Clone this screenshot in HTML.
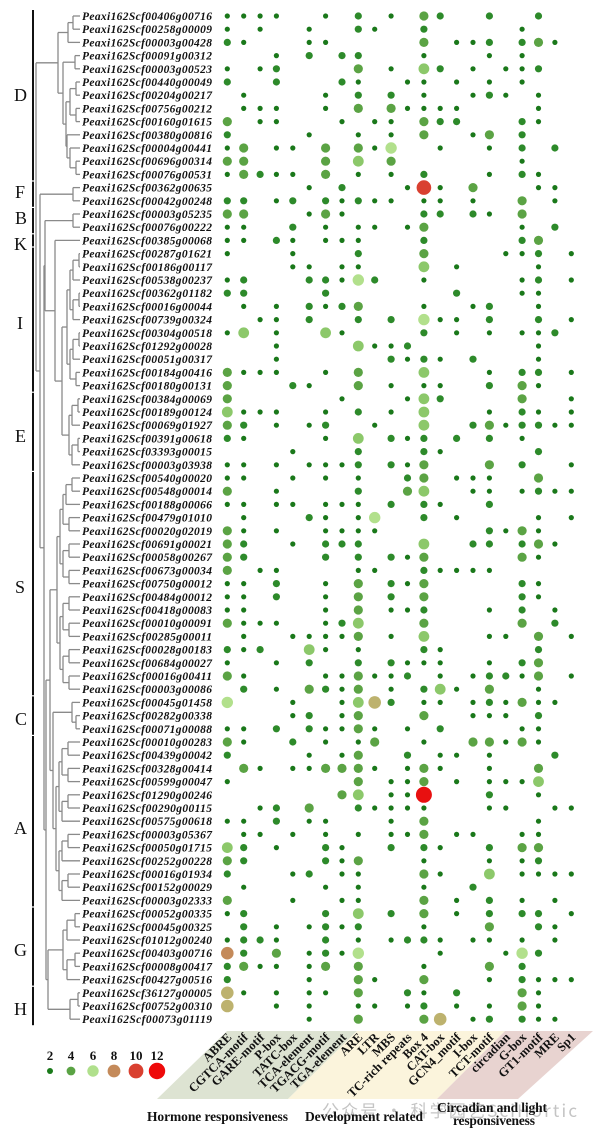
<!DOCTYPE html>
<html><head><meta charset="utf-8"><style>
html,body{margin:0;padding:0;background:#fff;}
svg{display:block;}
.g{font-family:"Liberation Serif",serif;font-weight:bold;font-style:italic;font-size:11.5px;fill:#111;}
.grp{font-family:"Liberation Serif",serif;font-size:18px;fill:#111;}
.col{font-family:"Liberation Serif",serif;font-weight:bold;font-size:12.5px;fill:#111;}
.leg{font-family:"Liberation Serif",serif;font-weight:bold;font-size:13px;fill:#111;}
.tt{font-family:"Liberation Serif",serif;font-weight:bold;font-size:13.5px;fill:#111;}
</style></head><body>
<svg id="s" width="602" height="1142" viewBox="0 0 602 1142" xmlns="http://www.w3.org/2000/svg">
<polygon points="227,1031 357,1031 288,1099 157,1099" fill="#dde3d2"/>
<polygon points="357,1031 505,1031 437,1099 288,1099" fill="#fbf4dc"/>
<polygon points="505,1031 593,1031 518,1099 437,1099" fill="#e8d3d0"/>
<g id="tree" stroke="#8a8a8a" stroke-width="1.3" fill="none"></g>
<g id="bars" stroke="#111" stroke-width="2"></g>
<g id="dots"></g>
<g id="labels">
<text class="g" x="82" y="20" textLength="130">Peaxi162Scf00406g00716</text>
<text class="g" x="82" y="33.2" textLength="130">Peaxi162Scf00258g00009</text>
<text class="g" x="82" y="46.4" textLength="130">Peaxi162Scf00003g00428</text>
<text class="g" x="82" y="59.6" textLength="130">Peaxi162Scf00091g00312</text>
<text class="g" x="82" y="72.8" textLength="130">Peaxi162Scf00003g00523</text>
<text class="g" x="82" y="86" textLength="130">Peaxi162Scf00440g00049</text>
<text class="g" x="82" y="99.2" textLength="130">Peaxi162Scf00204g00217</text>
<text class="g" x="82" y="112.4" textLength="130">Peaxi162Scf00756g00212</text>
<text class="g" x="82" y="125.6" textLength="130">Peaxi162Scf00160g01615</text>
<text class="g" x="82" y="138.8" textLength="130">Peaxi162Scf00380g00816</text>
<text class="g" x="82" y="152" textLength="130">Peaxi162Scf00004g00441</text>
<text class="g" x="82" y="165.2" textLength="130">Peaxi162Scf00696g00314</text>
<text class="g" x="82" y="178.4" textLength="130">Peaxi162Scf00076g00531</text>
<text class="g" x="82" y="191.6" textLength="130">Peaxi162Scf00362g00635</text>
<text class="g" x="82" y="204.8" textLength="130">Peaxi162Scf00042g00248</text>
<text class="g" x="82" y="218" textLength="130">Peaxi162Scf00003g05235</text>
<text class="g" x="82" y="231.2" textLength="130">Peaxi162Scf00076g00222</text>
<text class="g" x="82" y="244.4" textLength="130">Peaxi162Scf00385g00068</text>
<text class="g" x="82" y="257.6" textLength="130">Peaxi162Scf00287g01621</text>
<text class="g" x="82" y="270.8" textLength="130">Peaxi162Scf00186g00117</text>
<text class="g" x="82" y="284" textLength="130">Peaxi162Scf00538g00237</text>
<text class="g" x="82" y="297.2" textLength="130">Peaxi162Scf00362g01182</text>
<text class="g" x="82" y="310.4" textLength="130">Peaxi162Scf00016g00044</text>
<text class="g" x="82" y="323.6" textLength="130">Peaxi162Scf00739g00324</text>
<text class="g" x="82" y="336.8" textLength="130">Peaxi162Scf00304g00518</text>
<text class="g" x="82" y="350" textLength="130">Peaxi162Scf01292g00028</text>
<text class="g" x="82" y="363.2" textLength="130">Peaxi162Scf00051g00317</text>
<text class="g" x="82" y="376.4" textLength="130">Peaxi162Scf00184g00416</text>
<text class="g" x="82" y="389.6" textLength="130">Peaxi162Scf00180g00131</text>
<text class="g" x="82" y="402.8" textLength="130">Peaxi162Scf00384g00069</text>
<text class="g" x="82" y="416" textLength="130">Peaxi162Scf00189g00124</text>
<text class="g" x="82" y="429.2" textLength="130">Peaxi162Scf00069g01927</text>
<text class="g" x="82" y="442.4" textLength="130">Peaxi162Scf00391g00618</text>
<text class="g" x="82" y="455.6" textLength="130">Peaxi162Scf03393g00015</text>
<text class="g" x="82" y="468.8" textLength="130">Peaxi162Scf00003g03938</text>
<text class="g" x="82" y="482" textLength="130">Peaxi162Scf00540g00020</text>
<text class="g" x="82" y="495.2" textLength="130">Peaxi162Scf00548g00014</text>
<text class="g" x="82" y="508.4" textLength="130">Peaxi162Scf00188g00066</text>
<text class="g" x="82" y="521.6" textLength="130">Peaxi162Scf00479g01010</text>
<text class="g" x="82" y="534.8" textLength="130">Peaxi162Scf00020g02019</text>
<text class="g" x="82" y="548" textLength="130">Peaxi162Scf00691g00021</text>
<text class="g" x="82" y="561.2" textLength="130">Peaxi162Scf00058g00267</text>
<text class="g" x="82" y="574.4" textLength="130">Peaxi162Scf00673g00034</text>
<text class="g" x="82" y="587.6" textLength="130">Peaxi162Scf00750g00012</text>
<text class="g" x="82" y="600.8" textLength="130">Peaxi162Scf00484g00012</text>
<text class="g" x="82" y="614" textLength="130">Peaxi162Scf00418g00083</text>
<text class="g" x="82" y="627.2" textLength="130">Peaxi162Scf00010g00091</text>
<text class="g" x="82" y="640.4" textLength="130">Peaxi162Scf00285g00011</text>
<text class="g" x="82" y="653.6" textLength="130">Peaxi162Scf00028g00183</text>
<text class="g" x="82" y="666.8" textLength="130">Peaxi162Scf00684g00027</text>
<text class="g" x="82" y="680" textLength="130">Peaxi162Scf00016g00411</text>
<text class="g" x="82" y="693.2" textLength="130">Peaxi162Scf00003g00086</text>
<text class="g" x="82" y="706.4" textLength="130">Peaxi162Scf00045g01458</text>
<text class="g" x="82" y="719.6" textLength="130">Peaxi162Scf00282g00338</text>
<text class="g" x="82" y="732.8" textLength="130">Peaxi162Scf00071g00088</text>
<text class="g" x="82" y="746" textLength="130">Peaxi162Scf00010g00283</text>
<text class="g" x="82" y="759.2" textLength="130">Peaxi162Scf00439g00042</text>
<text class="g" x="82" y="772.4" textLength="130">Peaxi162Scf00328g00414</text>
<text class="g" x="82" y="785.6" textLength="130">Peaxi162Scf00599g00047</text>
<text class="g" x="82" y="798.8" textLength="130">Peaxi162Scf01290g00246</text>
<text class="g" x="82" y="812" textLength="130">Peaxi162Scf00290g00115</text>
<text class="g" x="82" y="825.2" textLength="130">Peaxi162Scf00575g00618</text>
<text class="g" x="82" y="838.4" textLength="130">Peaxi162Scf00003g05367</text>
<text class="g" x="82" y="851.6" textLength="130">Peaxi162Scf00050g01715</text>
<text class="g" x="82" y="864.8" textLength="130">Peaxi162Scf00252g00228</text>
<text class="g" x="82" y="878" textLength="130">Peaxi162Scf00016g01934</text>
<text class="g" x="82" y="891.2" textLength="130">Peaxi162Scf00152g00029</text>
<text class="g" x="82" y="904.4" textLength="130">Peaxi162Scf00003g02333</text>
<text class="g" x="82" y="917.6" textLength="130">Peaxi162Scf00052g00335</text>
<text class="g" x="82" y="930.8" textLength="130">Peaxi162Scf00045g00325</text>
<text class="g" x="82" y="944" textLength="130">Peaxi162Scf01012g00240</text>
<text class="g" x="82" y="957.2" textLength="130">Peaxi162Scf00403g00716</text>
<text class="g" x="82" y="970.4" textLength="130">Peaxi162Scf00008g00417</text>
<text class="g" x="82" y="983.6" textLength="130">Peaxi162Scf00427g00516</text>
<text class="g" x="82" y="996.8" textLength="130">Peaxi162Scf36127g00005</text>
<text class="g" x="82" y="1010" textLength="130">Peaxi162Scf00752g00310</text>
<text class="g" x="82" y="1023.2" textLength="130">Peaxi162Scf00073g01119</text>
</g>
<g>
<text class="grp" x="14" y="101">D</text>
<text class="grp" x="15" y="198">F</text>
<text class="grp" x="15" y="224">B</text>
<text class="grp" x="14" y="250">K</text>
<text class="grp" x="17" y="329">I</text>
<text class="grp" x="15" y="442">E</text>
<text class="grp" x="15" y="593">S</text>
<text class="grp" x="15" y="725">C</text>
<text class="grp" x="14" y="834">A</text>
<text class="grp" x="14" y="956">G</text>
<text class="grp" x="14" y="1015">H</text>
</g>
<g id="cols"></g>
<g>
<text class="leg" x="50" y="1060" text-anchor="middle">2</text>
<text class="leg" x="71" y="1060" text-anchor="middle">4</text>
<text class="leg" x="93" y="1060" text-anchor="middle">6</text>
<text class="leg" x="114" y="1060" text-anchor="middle">8</text>
<text class="leg" x="136" y="1060" text-anchor="middle">10</text>
<text class="leg" x="157" y="1060" text-anchor="middle">12</text>
<circle cx="50" cy="1071" r="3" fill="#1a7a1a"/>
<circle cx="71" cy="1071" r="4.4" fill="#5aa344"/>
<circle cx="93" cy="1071" r="5.7" fill="#b0e08c"/>
<circle cx="114" cy="1071" r="6.4" fill="#c48a5a"/>
<circle cx="136" cy="1071" r="7.4" fill="#d94030"/>
<circle cx="157" cy="1071" r="8.2" fill="#ee0a0a"/>
</g>
<text x="322" y="1117" font-family="'Noto Sans CJK SC','Liberation Sans',sans-serif" font-size="17" fill="#c4c4c4" textLength="255">公众号 · 科学园艺SciHortic</text>
<text class="tt" x="147" y="1121" textLength="141">Hormone responsiveness</text>
<text class="tt" x="305" y="1121" textLength="118">Development related</text>
<text class="tt" x="437" y="1112" textLength="110">Circadian and light</text>
<text class="tt" x="453" y="1125" textLength="82">responsiveness</text>
</svg>
<script>
(function(){
var NS="http://www.w3.org/2000/svg";
function Y(i){return 16+i*13.2;}
function X(c){return 227.3+c*16.38;}
function el(p,t,a){var e=document.createElementNS(NS,t);for(var k in a)e.setAttribute(k,a[k]);p.appendChild(e);return e;}
var rows=[
"0s 1s 2s 3s 6s 8m 10s 12M 13m 16m 19m",
"0s 2s 5s 8m 9s 12m 18s",
"0m 1s 5s 6s 12M 14s 15s 16m 18m 19M 20s",
"3s 5m 7m 8m 12s 16s 18s",
"0s 2s 3m 8M 10s 12L 13m 15s 17s 18s 19m",
"0m 3m 7m 8s 11s 12s 14s 16s 18s",
"1s 6s 8m 10m 12s 15s 16m 17s 19s",
"1s 2s 3s 6s 8M 10M 11s 12s 13s 14s 19s",
"0M 2s 3s 7s 9s 10s 12M 13m 14m 18m 19s",
"0m 5s 8s 10s 12M 15s 16M 18m",
"0s 1M 3s 4s 6M 8M 9s 10P 13s 16s 18m 20m",
"0M 1M 6M 8L 10M 18s",
"0s 1M 2m 3s 4s 6M 8s 10s 12m 16s 18m 19s",
"5s 7m 11s 12R 13s 15M 19s 20s",
"0m 1m 3s 4m 6m 7s 8m 9s 10s 12s 13s 15s 18M 20s",
"0M 1M 5s 6M 7s 12m 13m 15m 16s 18M",
"0s 1s 4m 6s 8s 9s 11s 12M 18s 20m",
"0s 1s 3m 4s 6s 7s 8s 12m 18m 19M",
"0s 4s 8m 12M 17s 18s 19m 21s",
"4s 5s 7s 8s 12L 14s 19s",
"0s 1m 5m 6m 7s 8P 9m 12s 18s 19m 21s",
"0m 1m 6m 14m 18s 19s",
"1s 3s 5m 6s 7m 8M 12s 15s 16m 19s",
"2s 3s 5m 8m 10m 12P 13s 14s 16m 19m 21s",
"0s 1L 3s 6L 7s 12m 14s 16s 18s 19s 20m",
"3s 8L 9s 10s 11m 19s",
"3s 10m 11s 12m 13s 15m 19s",
"0M 1s 2s 3s 6s 8M 12L 16s 18m 19m 21s",
"0M 4m 5s 8M 10s 12s 13s 16m 18M 19s",
"0M 7s 11s 12L 13m 18M 21s",
"0L 1s 2s 3s 6s 8m 10s 12L 16s 18m 19s 21s",
"0M 1m 3s 5s 6m 9s 12L 15m 16M 17s 18m 19m 20s 21s",
"0m 1s 6s 8L 10m 11s 12m 14m 16m 18s",
"4s 8m 12m 13s 19m",
"0s 1s 3s 5s 6s 7s 8m 10m 11s 12M 16M 18m 21s",
"0s 1s 4s 6s 8s 11m 12M 14s 15s 16s 19M",
"0M 3s 8m 11M 12L 15s 16s 18s 19m 20s 21s",
"0s 1s 3s 4s 6s 7s 8s 10m 12m 13s 16m",
"1s 5m 6s 8s 9P 12m 14s 19s 21s",
"0M 1s 3s 6s 7s 8s 9s 16m 17s 18M 19s",
"0M 1m 4s 6m 7m 8m 12L 15m 16m 18m 19M 20s",
"0M 1m 6m 8m 10m 11s 12M 18M 19s",
"0M 2s 3s 8s 9s 12m 13s 14s 15s 16s",
"0s 1s 3m 6s 8M 10m 11s 12M 18m 19s",
"0s 1s 3m 6s 8M 10m 12M 18m 19s",
"0s 1s 6s 8M 10s 11s 12m 16s 18m 20s",
"0M 1s 2s 3s 6s 7m 8L 12M 18M 20m",
"1s 4s 5s 6s 7s 8M 10s 12L 16s 17s 19M 21s",
"0m 1s 2m 5L 6s 8s 12m 13s 19m",
"0s 3s 5m 8m 10m 11s 12s 13s 16s 18m 19M",
"0M 1s 6s 7s 8M 9s 10s 11m 13s 15s 16m 17m 18s 19M 21s",
"1m 3s 5M 6m 7s 8M 10s 12m 13L 14s 16M 19s",
"0P 4s 7s 8L 9T 10m 12s 13s 15s 16m 17s 18M 19s 20s",
"4s 5m 7s 8M 12M 15s 16s 17s 19m",
"0s 1s 3m 5m 6s 7s 8M 9s 11s 13m 18s 19s",
"0M 1s 4m 6s 8s 9M 12s 15M 16M 17s 18M 19s",
"0m 5s 7s 8M 11m 13s 14s 16s 20m",
"1M 2s 4s 5s 6M 7M 8M 9s 11s 12M 13s 16s 19M",
"0s 8M 10s 11s 12M 14s 16s 17s 18s 19L",
"7M 8L 10s 11s 12X 16m 19s",
"2s 3m 5M 8m 9s 10s 11s 12s 16s 17s 20s 21s",
"0s 1s 3m 5s 6s 10s 12M 19s",
"1s 2s 4s 6s 8s 10s 11s 12M 14s 15s 18s 19s",
"0L 1m 3s 6m 7s 10m 12m 13s 16m 18M 19M",
"0M 1m 6m 7s 8M 12s 16s 18s 19m",
"0m 4s 5m 7s 8s 12M 13s 16L 18s 19s 20s 21s",
"1s 6s 8s 12s 15m",
"0M 4s 7s 8s 12M 14s 16m 18s 20s",
"0s 1m 6m 8L 10m 12M 14s 16m 18m 19m 21s",
"1m 3s 5s 6m 7s 8m 12s 16M 19m 20s",
"0s 1m 2m 3s 6m 8s 10s 11m 12m 13s 15s 16s 18s 20s",
"0O 1m 3M 5s 6m 7s 8P 13s 17s 18P 19m",
"0m 1M 2s 3s 5s 6M 8M 12s 16M 18m",
"0m 5s 8M 9s 12M 16s 18m 19s 20s 21s",
"0T 1s 3s 5s 6s 8M 11m 12s 14m 18M 19s",
"0T 3s 5s 8s 9s 11s 12m 14s 16s 18M 19s",
"5s 8M 12M 13T 15s 16m 18m 19s 20s"];
var S={s:[2.6,"#1a781a"],m:[3.6,"#2d8a2a"],M:[4.6,"#5ba344"],L:[5.4,"#8cc86a"],P:[5.7,"#b2e08c"],T:[6.3,"#bdb26e"],O:[6.3,"#c48a5a"],R:[7.3,"#d94030"],X:[8,"#e81010"]};
var dg=document.getElementById("dots");
rows.forEach(function(r,i){r.split(" ").forEach(function(t){var c=parseInt(t),k=t.replace(/[0-9]/g,"");var v=S[k];el(dg,"circle",{cx:X(c).toFixed(1),cy:Y(i).toFixed(1),r:v[0],fill:v[1]});});});
function bal(lo,hi,x,st){if(lo==hi)return lo;if(hi==lo+1)return {x:x+st,c:[lo,hi]};var m=Math.floor((lo+hi)/2);return {x:x,c:[bal(lo,m,x+st,st),bal(m+1,hi,x+st,st)]};}
var D={x:58,c:[{x:68,c:[{x:73,c:[0,1]},2]},{x:63,c:[{x:75,c:[3,4]},{x:66,c:[{x:70,c:[{x:76,c:[5,6]},{x:76,c:[7,8]}]},{x:67,c:[9,{x:70,c:[10,{x:76,c:[11,12]}]}]}]}]}]};
var BKIE={x:45,c:[{x:73,c:[15,16]},{x:55,c:[17,{x:62,c:[bal(18,28,67,3),bal(29,34,69,3)]}]}]};
var SCA={x:50,c:[bal(35,51,57,3),{x:53,c:[{x:72,c:[52,{x:76,c:[53,54]}]},bal(55,67,56,3)]}]};
var GH={x:48,c:[bal(68,73,63,4),bal(74,76,70,4)]};
var root={x:36,c:[D,{x:40,c:[{x:73,c:[13,14]},{x:44,c:[BKIE,{x:46,c:[SCA,GH]}]}]}]};
var tg=document.getElementById("tree");
function draw(n){if(typeof n=="number")return {y:Y(n),x:80};var ys=n.c.map(function(ch){var r=draw(ch);var cx=(typeof ch=="number")?80:ch.x;el(tg,"line",{x1:n.x,y1:r.y,x2:cx,y2:r.y});return r.y;});var a=Math.min.apply(0,ys),b=Math.max.apply(0,ys);el(tg,"line",{x1:n.x,y1:a,x2:n.x,y2:b});return {y:(a+b)/2,x:n.x};}
draw(root);
var bg=document.getElementById("bars");
[[0,12],[13,14],[15,16],[17,17],[18,28],[29,34],[35,51],[52,54],[55,67],[68,73],[74,76]].forEach(function(g){el(bg,"line",{x1:33,y1:Y(g[0])-6,x2:33,y2:Y(g[1])+6});});
var names=["ABRE","CGTCA-motif","GARE-motif","P-box","TATC-box","TCA-element","TGACG-motif","TGA-element","ARE","LTR","MBS","TC-rich repeats","Box 4","CAT-box","GCN4_motif","I-box","TCT-motif","circadian","G-box","GT1-motif","MRE","Sp1"];
var cg=document.getElementById("cols");
names.forEach(function(n,c){var x=X(c)+5,y=1038;var t=el(cg,"text",{"class":"col","text-anchor":"end",x:x,y:y,transform:"rotate(-45 "+x+" "+y+")"});t.textContent=n;});
})();
</script>
</body></html>
